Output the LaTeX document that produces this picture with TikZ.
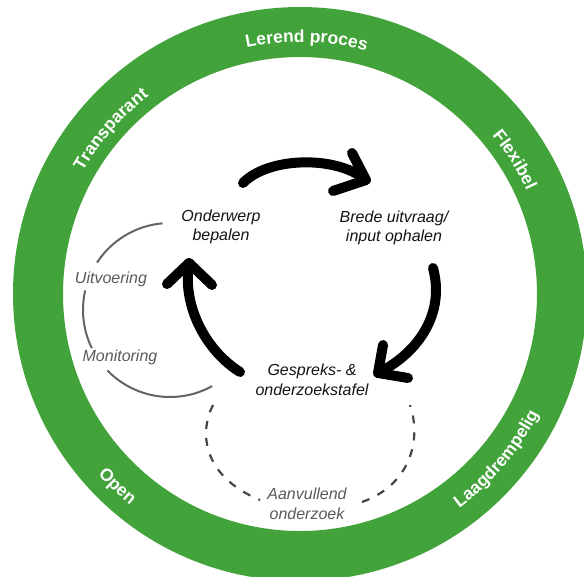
\documentclass[tikz,border=0pt]{standalone}
\usepackage{fontspec}
\setmainfont{Liberation Sans}
\usetikzlibrary{decorations.text}
\definecolor{ringgreen}{RGB}{65,163,57}
\definecolor{labelgray}{RGB}{90,90,90}
\definecolor{arcgray}{RGB}{100,100,100}
\definecolor{dashgray}{RGB}{70,70,70}
\newcommand\ringfont{\bfseries\fontsize{17.5}{20}\selectfont}
\begin{document}
\begin{tikzpicture}[x=1pt,y=-1pt,
  steplabel/.style={font=\itshape\fontsize{16}{19.5}\selectfont, align=center, text=black!92, inner sep=0pt},
  sidelabel/.style={font=\itshape\fontsize{16}{19.5}\selectfont, align=center, text=labelgray, inner sep=0pt},
  cyclearrow/.style={line width=10pt, line cap=round, line join=round, draw=black},
  grayarc/.style={line width=2pt, draw=arcgray},
  dasharc/.style={line width=2.2pt, draw=dashgray, dash pattern=on 8pt off 9pt},
  ringtext/.style={decorate, decoration={text along path, text align=center, text color=white}}
]
\useasboundingbox (0,0) rectangle (584,576);
\clip (0,0) rectangle (584,576);
\fill[white] (0,0) rectangle (584,576);
\coordinate (c) at (300,294);
% green ring
\fill[ringgreen, even odd rule] (c) circle[radius=287] (c) circle[radius=237];
% ring texts
\path[ringtext, decoration={text={|\ringfont|Lerend proces}}] (c) ++(231.5:252) arc[start angle=231.5, end angle=311.5, radius=252];
\path[ringtext, decoration={text={|\ringfont|Transparant}}] (c) ++(191:249) arc[start angle=191, end angle=251, radius=249];
\path[ringtext, decoration={text={|\ringfont|Flexibel}}] (c) ++(298:249) arc[start angle=298, end angle=358, radius=249];
\path[ringtext, decoration={text={|\ringfont|Open}}] (c) ++(163.5:271) arc[start angle=163.5, end angle=103.5, radius=271];
\path[ringtext, decoration={text={|\ringfont|Laagdrempelig}}] (c) ++(80:267) arc[start angle=80, end angle=0, radius=267];
% labels
\node[steplabel] (onderwerp) at (221,227) {Onderwerp\\bepalen};
\node[steplabel] (brede) at (394,228) {Brede uitvraag/\\input ophalen};
\node[steplabel] (gespreks) at (312,380) {Gespreks- \&\\onderzoekstafel};
\node[sidelabel] (uitvoering) at (111,279) {Uitvoering};
\node[sidelabel] (monitoring) at (120,357) {Monitoring};
\node[sidelabel] (aanvullend) at (307,504) {Aanvullend\\onderzoek};
% cycle arrows
\coordinate (a1s) at (243,183);
\coordinate (a1e) at (366,180);
\coordinate (a1l) at (352,153);
\coordinate (a1r) at (333,191);
\draw[cyclearrow] (a1s) .. controls (268,157) and (336,155) .. (a1e);
\draw[cyclearrow] (a1l) -- (a1e) -- (a1r);
\coordinate (a2s) at (433,268);
\coordinate (a2e) at (378,373);
\coordinate (a2l) at (383,345);
\coordinate (a2r) at (408,378);
\draw[cyclearrow] (a2s) .. controls (445,312) and (420,352) .. (a2e);
\draw[cyclearrow] (a2l) -- (a2e) -- (a2r);
\coordinate (a3s) at (240,372);
\coordinate (a3e) at (189,263);
\coordinate (a3l) at (167,284);
\coordinate (a3r) at (212,285);
\draw[cyclearrow] (a3s) .. controls (205,350) and (182,305) .. (a3e);
\draw[cyclearrow] (a3l) -- (a3e) -- (a3r);
% grey solid loop
\coordinate (g) at (170,310);
\draw[grayarc] (g) ++(265:87) arc[start angle=265, end angle=213, radius=87];
\draw[grayarc] (g) ++(193:87) arc[start angle=193, end angle=154, radius=87];
\draw[grayarc] (g) ++(136:87) arc[start angle=136, end angle=61, radius=87];
% dashed loop
\coordinate (d1) at (213,405);
\coordinate (d2) at (260,500);
\coordinate (d3) at (362,502);
\coordinate (d4) at (410,405);
\draw[dasharc] (d1) .. controls (200,430) and (200,475) .. (d2);
\draw[dasharc] (d3) .. controls (410,485) and (422,440) .. (d4);
\end{tikzpicture}
\end{document}
